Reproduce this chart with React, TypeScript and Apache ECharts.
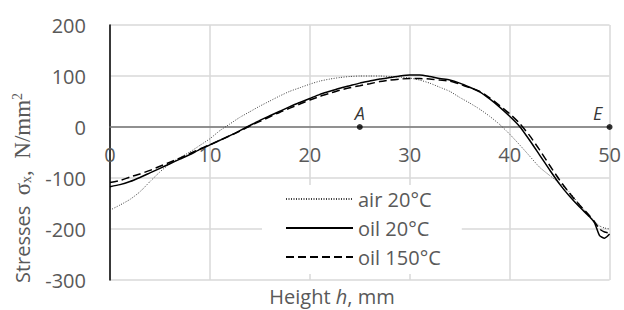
import React, { useEffect, useRef } from "react";
import * as echarts from "echarts";

const heights = [0, 1, 2, 3, 4, 5, 6, 7, 8, 9, 10, 11, 12, 13, 14, 15, 16, 17, 18, 19, 20, 21, 22, 23, 24, 25, 26, 27, 28, 29, 30, 31, 32, 33, 34, 35, 36, 37, 38, 39, 40, 41, 42, 43, 44, 45, 46, 47, 48, 48.5, 49, 49.5, 50];

const air20 = [-163, -153, -142, -127, -107, -88, -72, -60, -49, -36, -23, -7, 6, 19, 30, 41, 51, 61, 70, 77, 84, 90, 94, 97, 99, 100, 100, 100, 99, 98, 96, 92, 86, 78, 70, 58, 47, 35, 21, 5, -14, -35, -57, -79, -95, -110, -128, -152, -175, -185, -194, -198, -200];

const oil20 = [-117, -113, -107, -99, -90, -81, -72, -63, -54, -44, -35, -26, -17, -7, 3, 13, 22, 31, 40, 48, 56, 64, 70, 76, 81, 86, 90, 94, 97, 100, 102, 102, 99, 95, 92, 86, 78, 69, 55, 39, 21, 1, -26, -55, -84, -112, -136, -157, -176, -188, -213, -218, -210];

const oil150 = [-109, -105, -98, -92, -85, -77, -69, -61, -52, -43, -35, -26, -17, -8, 2, 11, 20, 29, 37, 45, 53, 60, 66, 72, 77, 81, 85, 89, 92, 94, 95, 95, 94, 92, 90, 84, 77, 70, 57, 42, 26, 7, -17, -45, -75, -104, -130, -153, -174, -186, -200, -206, -208];

const points = [
  { name: "A", h: 25, v: 0 },
  { name: "E", h: 50, v: 0 },
];

const seriesNames = ["air 20°C", "oil 20°C", "oil 150°C"];

const FONT = "'Open Sans', 'Liberation Sans', sans-serif";
const SERIF = "'Liberation Serif', 'DejaVu Serif', serif";
const GRAY = "#595959";

export default function App() {
  const ref = useRef<HTMLDivElement>(null);

  useEffect(() => {
    if (!ref.current) return;
    const chart = echarts.init(ref.current, null, { renderer: "svg" });
    const pair = (vals: number[]) => heights.map((h, i) => [h, vals[i]]);

    chart.setOption({
      animation: false,
      backgroundColor: "#ffffff",
      grid: { left: 110, right: 12, top: 25, bottom: 30, containLabel: false },
      xAxis: {
        type: "value",
        min: 0,
        max: 50,
        interval: 10,
        offset: -153,
        axisLine: { show: true, onZero: false, lineStyle: { color: "#767676", width: 1.5 } },
        axisTick: { show: false },
        axisLabel: { color: GRAY, fontSize: 20, fontFamily: FONT, margin: 17 },
        splitLine: { show: true, lineStyle: { color: "#d9d9d9", width: 1.5 } },
      },
      yAxis: {
        type: "value",
        min: -300,
        max: 200,
        interval: 100,
        axisLine: { show: true, onZero: false, lineStyle: { color: "#000000", width: 1.5 } },
        axisTick: { show: false },
        axisLabel: { color: GRAY, fontSize: 20, fontFamily: FONT, margin: 24 },
        splitLine: { show: true, lineStyle: { color: "#d9d9d9", width: 1.5 } },
      },
      legend: {
        data: seriesNames,
        orient: "vertical",
        left: 262,
        top: 185,
        padding: [4, 21, 7, 23],
        itemGap: 9,
        itemWidth: 67,
        itemHeight: 14,
        backgroundColor: "#ffffff",
        itemStyle: { color: "transparent", borderWidth: 0, opacity: 0 },
        textStyle: { color: GRAY, fontSize: 20, fontFamily: FONT, lineHeight: 20 },
      },
      graphic: [
        {
          type: "text",
          x: 22,
          y: 188,
          rotation: Math.PI / 2,
          style: {
            text: "{a|Stresses  }{b|σ}{c|x}{b|,  N/mm}{d|2}",
            textAlign: "center",
            textVerticalAlign: "middle",
            rich: {
              a: { fontFamily: FONT, fontSize: 20, fill: GRAY },
              b: { fontFamily: SERIF, fontSize: 23, fill: GRAY },
              c: { fontFamily: SERIF, fontSize: 14, fill: GRAY, verticalAlign: "bottom" },
              d: { fontFamily: SERIF, fontSize: 14, fill: GRAY, verticalAlign: "top" },
            },
          },
        },
        {
          type: "text",
          x: 332,
          y: 296,
          style: {
            text: "{a|Height }{i|h}{a|, mm}",
            textAlign: "center",
            textVerticalAlign: "middle",
            rich: {
              a: { fontFamily: FONT, fontSize: 20, fill: GRAY, lineHeight: 22 },
              i: { fontFamily: FONT, fontSize: 20, fill: GRAY, fontStyle: "italic", lineHeight: 22 },
            },
          },
        },
      ],
      series: [
        {
          name: seriesNames[0],
          type: "line",
          data: pair(air20),
          symbol: "none",
          smooth: 0.2,
          lineStyle: { color: "#404040", width: 1, type: [1, 1.5] },
          itemStyle: { color: "#404040" },
          z: 2,
        },
        {
          name: seriesNames[1],
          type: "line",
          data: pair(oil20),
          symbol: "none",
          smooth: 0.2,
          lineStyle: { color: "#000000", width: 1.5, type: "solid" },
          itemStyle: { color: "#000000" },
          z: 3,
        },
        {
          name: seriesNames[2],
          type: "line",
          data: pair(oil150),
          symbol: "none",
          smooth: 0.2,
          lineStyle: { color: "#000000", width: 1.5, type: [8, 4] },
          itemStyle: { color: "#000000" },
          z: 3,
        },
        {
          name: "points",
          type: "scatter",
          data: points.map((p) => ({
            value: [p.h, p.v],
            name: p.name,
            label: p.name === "E" ? { offset: [-12, 0] } : {},
          })),
          symbol: "circle",
          symbolSize: 6,
          itemStyle: { color: "#000000" },
          label: {
            show: true,
            position: "top",
            distance: 2,
            formatter: "{b}",
            color: "#000000",
            fontSize: 18,
            fontStyle: "italic",
            fontFamily: FONT,
          },
          z: 5,
        },
      ],
    });

    return () => chart.dispose();
  }, []);

  return (
    <div
      ref={ref}
      style={{ position: "fixed", left: 0, top: 0, width: 624, height: 310 }}
    />
  );
}
